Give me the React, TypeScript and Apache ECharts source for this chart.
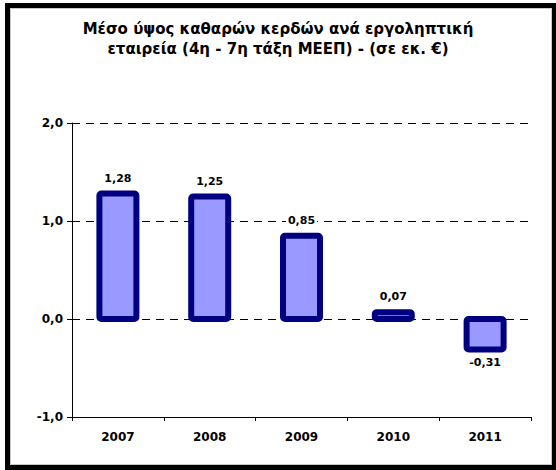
import React, { useEffect, useRef } from "react";
import * as echarts from "echarts";

const titleLines = [
  "Μέσο ύψος καθαρών κερδών ανά εργοληπτική",
  "εταιρεία (4η - 7η τάξη ΜΕΕΠ) - (σε εκ. €)",
];
const categories = ["2007", "2008", "2009", "2010", "2011"];
const values = [1.28, 1.25, 0.85, 0.07, -0.31];
const yMin = -1;
const yMax = 2;
const yInterval = 1;

const fmt = (v: number, d: number) => v.toFixed(d).replace(".", ",");

export default function App() {
  const ref = useRef<HTMLDivElement>(null);
  useEffect(() => {
    if (!ref.current) return;
    const chart = echarts.init(ref.current, null, { renderer: "svg" });
    const font = "'DejaVu Sans', Verdana, sans-serif";
    chart.setOption({
      animation: false,
      backgroundColor: "#ffffff",
      textStyle: { fontFamily: font },
      title: {
        text: titleLines.join("\n"),
        left: "center",
        top: 14,
        textStyle: {
          fontFamily: font,
          fontSize: 15,
          fontWeight: "bold",
          color: "#000000",
          lineHeight: 20,
        },
      },
      graphic: [
        {
          type: "rect",
          shape: { x: 7.5, y: 5.5, width: 547, height: 462 },
          style: { fill: "none", stroke: "#000000", lineWidth: 5 },
          silent: true,
        },
        {
          type: "rect",
          shape: { x: 10.5, y: 8.5, width: 541, height: 456 },
          style: { fill: "none", stroke: "#c8c8c8", lineWidth: 1 },
          silent: true,
        },
      ],
      grid: { left: 72, right: 25, top: 123, bottom: 53, containLabel: false },
      xAxis: [
        {
          type: "category",
          data: categories,
          position: "bottom",
          axisLine: { show: false },
          axisTick: { show: false },
          axisLabel: {
            fontFamily: font,
            fontSize: 12,
            fontWeight: "bold",
            color: "#000000",
            margin: 14,
          },
          splitLine: { show: false },
        },
        {
          type: "category",
          data: categories,
          position: "bottom",
          axisLine: { show: true, onZero: true, lineStyle: { color: "#000000", width: 1 } },
          axisTick: { show: true, length: 4, inside: false, lineStyle: { color: "#000000" } },
          axisLabel: { show: false },
          splitLine: { show: false },
        },
      ],
      yAxis: {
        type: "value",
        min: yMin,
        max: yMax,
        interval: yInterval,
        axisLine: { show: true, lineStyle: { color: "#000000", width: 1 } },
        axisTick: { show: true, length: 5, lineStyle: { color: "#000000" } },
        axisLabel: {
          fontFamily: font,
          fontSize: 12,
          fontWeight: "bold",
          color: "#000000",
          margin: 9,
          formatter: (v: number) => fmt(v, 1),
        },
        splitLine: {
          show: true,
          lineStyle: { color: "#000000", type: [8, 6], width: 1 },
        },
      },
      series: [
        {
          type: "custom",
          xAxisIndex: 0,
          data: values.map((v, i) => [i, v]),
          z: 3,
          renderItem: (params: any, api: any) => {
            const idx = api.value(0);
            const v = api.value(1);
            const top = api.coord([idx, v]);
            const base = api.coord([idx, 0]);
            const w = 37;
            const y0 = Math.min(top[1], base[1]);
            const h = Math.abs(base[1] - top[1]);
            return {
              type: "rect",
              shape: { x: top[0] - w / 2, y: y0, width: w, height: h, r: 2 },
              style: {
                fill: "#9999ff",
                stroke: "#000080",
                lineWidth: 6,
                lineJoin: "round",
              },
            };
          },
        },
        {
          type: "bar",
          xAxisIndex: 0,
          data: values.map((v) => ({
            value: v,
            label: { position: v < 0 ? "bottom" : "top", distance: v < 0 ? 7 : 9 },
          })),
          barWidth: 37,
          itemStyle: { color: "transparent", borderWidth: 0 },
          label: {
            show: true,
            fontFamily: font,
            fontSize: 11,
            fontWeight: "bold",
            color: "#000000",
            backgroundColor: "#ffffff",
            padding: [1, 2],
            formatter: (p: any) => fmt(p.value, 2),
          },
          z: 4,
        },
      ],
    });
    return () => chart.dispose();
  }, []);
  return (
    <div
      ref={ref}
      style={{ position: "absolute", left: 0, top: 0, width: 556, height: 470 }}
    />
  );
}
